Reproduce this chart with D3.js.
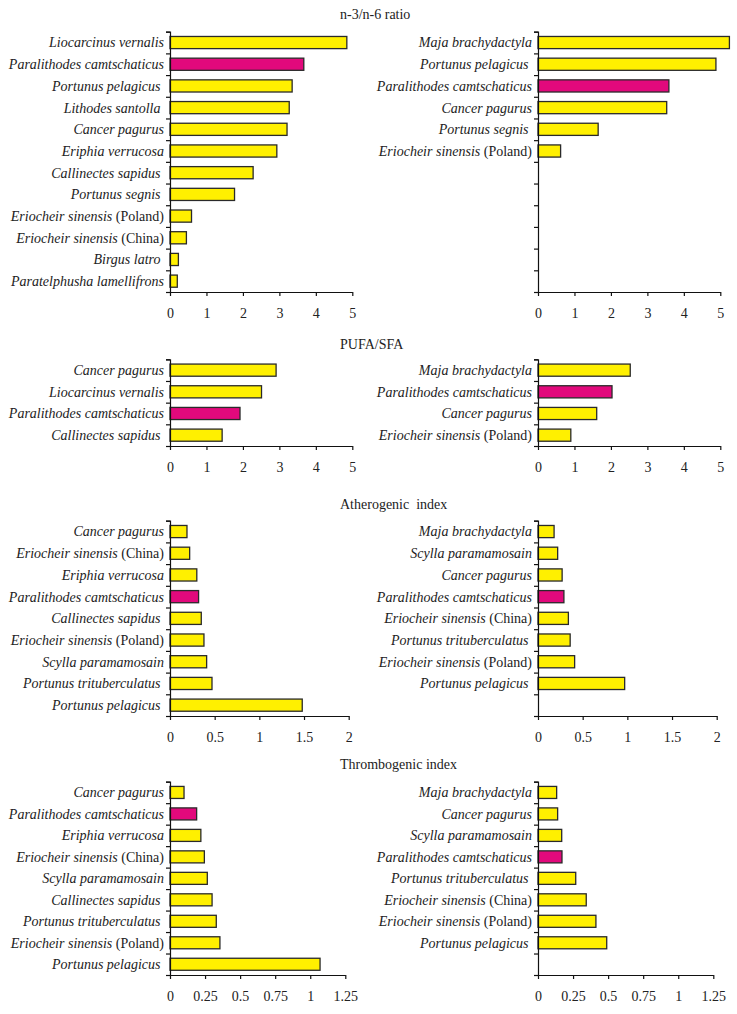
<!DOCTYPE html>
<html><head><meta charset="utf-8">
<script src="https://cdn.jsdelivr.net/npm/d3@7"></script>
<style>
body{margin:0;background:#fff;}
svg text{font-family:"Liberation Serif","Times New Roman",serif;white-space:pre;}
</style></head>
<body><svg id="c" width="737" height="1014"></svg>
<script>
const highlightSpecies = "Paralithodes camtschaticus";
const spacedLabels = ["Portunus pelagicus","Portunus segnis","Callinectes sapidus","Portunus trituberculatus","Lithodes santolla","Birgus latro"];

const n3n6LeftSpecies = ["Liocarcinus vernalis","Paralithodes camtschaticus","Portunus pelagicus","Lithodes santolla","Cancer pagurus","Eriphia verrucosa","Callinectes sapidus","Portunus segnis","Eriocheir sinensis (Poland)","Eriocheir sinensis (China)","Birgus latro","Paratelphusha lamellifrons"];
const n3n6LeftValues = [4.85,3.67,3.35,3.27,3.21,2.93,2.28,1.77,0.59,0.45,0.23,0.20];
const n3n6RightSpecies = ["Maja brachydactyla","Portunus pelagicus","Paralithodes camtschaticus","Cancer pagurus","Portunus segnis","Eriocheir sinensis (Poland)"];
const n3n6RightValues = [5.25,4.88,3.59,3.53,1.65,0.62];

const pufaLeftSpecies = ["Cancer pagurus","Liocarcinus vernalis","Paralithodes camtschaticus","Callinectes sapidus"];
const pufaLeftValues = [2.91,2.51,1.92,1.43];
const pufaRightSpecies = ["Maja brachydactyla","Paralithodes camtschaticus","Cancer pagurus","Eriocheir sinensis (Poland)"];
const pufaRightValues = [2.53,2.03,1.61,0.90];

const athLeftSpecies = ["Cancer pagurus","Eriocheir sinensis (China)","Eriphia verrucosa","Paralithodes camtschaticus","Callinectes sapidus","Eriocheir sinensis (Poland)","Scylla paramamosain","Portunus trituberculatus","Portunus pelagicus"];
const athLeftValues = [0.19,0.22,0.30,0.32,0.35,0.38,0.41,0.47,1.48];
const athRightSpecies = ["Maja brachydactyla","Scylla paramamosain","Cancer pagurus","Paralithodes camtschaticus","Eriocheir sinensis (China)","Portunus trituberculatus","Eriocheir sinensis (Poland)","Portunus pelagicus"];
const athRightValues = [0.18,0.22,0.27,0.29,0.34,0.36,0.41,0.97];

const thrLeftSpecies = ["Cancer pagurus","Paralithodes camtschaticus","Eriphia verrucosa","Eriocheir sinensis (China)","Scylla paramamosain","Callinectes sapidus","Portunus trituberculatus","Eriocheir sinensis (Poland)","Portunus pelagicus"];
const thrLeftValues = [0.10,0.19,0.22,0.245,0.266,0.30,0.33,0.356,1.07];
const thrRightSpecies = ["Maja brachydactyla","Cancer pagurus","Scylla paramamosain","Paralithodes camtschaticus","Portunus trituberculatus","Eriocheir sinensis (China)","Eriocheir sinensis (Poland)","Portunus pelagicus"];
const thrRightValues = [0.133,0.14,0.169,0.171,0.269,0.344,0.413,0.49];

const titles = ["n-3/n-6 ratio","PUFA/SFA","Atherogenic  index","Thrombogenic index"];
const n3n6Ticks = [0,1,2,3,4,5];
const pufaTicks = [0,1,2,3,4,5];
const athTicks = [0,0.5,1,1.5,2];
const thrTicks = [0,0.25,0.5,0.75,1,1.25];

const svg = d3.select("#c");
const YELLOW = "#fff000", MAGENTA = "#e2097c", STROKE = "#2a2a2a";

const sections = [
  {title:titles[0], titleY:19, top:31.7, bottom:292, width:182.3, ticks:n3n6Ticks, max:5,
   left:{sp:n3n6LeftSpecies, v:n3n6LeftValues, slots:12}, right:{sp:n3n6RightSpecies, v:n3n6RightValues, slots:12}},
  {title:titles[1], titleY:349, top:359.3, bottom:446, width:182.3, ticks:pufaTicks, max:5,
   left:{sp:pufaLeftSpecies, v:pufaLeftValues, slots:4}, right:{sp:pufaRightSpecies, v:pufaRightValues, slots:4}},
  {title:titles[2], titleY:509, top:520.7, bottom:716, width:178.7, ticks:athTicks, max:2,
   left:{sp:athLeftSpecies, v:athLeftValues, slots:9}, right:{sp:athRightSpecies, v:athRightValues, slots:9}},
  {title:titles[3], titleY:769, top:781.7, bottom:975, width:175.3, ticks:thrTicks, max:1.25,
   left:{sp:thrLeftSpecies, v:thrLeftValues, slots:9}, right:{sp:thrRightSpecies, v:thrRightValues, slots:9}}
];

const fmt = d => String(d);

function panel(sec, p, x0){
  const g = svg.append("g");
  const x = d3.scaleLinear().domain([0, sec.max]).range([x0, x0 + sec.width]);
  const slotIdx = d3.range(p.slots);
  const y = d3.scaleBand().domain(slotIdx).range([sec.top, sec.bottom]).paddingInner(0.44).paddingOuter(0.22);
  const yb = d3.scaleLinear().domain([0, p.slots]).range([sec.top, sec.bottom]);

  g.selectAll("rect.bar").data(p.v).join("rect")
    .attr("x", x(0)).attr("y", (d,i)=>y(i))
    .attr("width", d => x(d)-x(0)).attr("height", y.bandwidth())
    .attr("fill", (d,i)=> p.sp[i]===highlightSpecies ? MAGENTA : YELLOW)
    .attr("stroke", STROKE).attr("stroke-width", 1.3);

  const ya = g.append("g").attr("transform", `translate(${x(0)},0)`)
    .call(d3.axisLeft(yb).tickValues(d3.range(p.slots+1)).tickSize(4).tickFormat(""));
  ya.select(".domain").attr("stroke","#111").attr("stroke-width",1.2);
  ya.selectAll(".tick line").attr("stroke","#111").attr("stroke-width",1.2);

  const xa = g.append("g").attr("transform", `translate(0,${sec.bottom})`)
    .call(d3.axisBottom(x).tickValues(sec.ticks).tickSize(4).tickFormat(fmt).tickSizeOuter(0));
  xa.select(".domain").attr("stroke","#111").attr("stroke-width",1.2);
  xa.selectAll(".tick line").attr("stroke","#111").attr("stroke-width",1.2);
  xa.selectAll(".tick text").attr("font-family","Liberation Serif").attr("font-size",14)
    .attr("fill","#222").attr("dy","1.35em");

  const lab = g.selectAll("text.cat").data(p.sp).join("text")
    .attr("class","cat")
    .attr("x", x(0)-6).attr("y", (d,i)=> y(i)+y.bandwidth()/2)
    .attr("dy","0.35em").attr("text-anchor","end")
    .attr("font-size",14).attr("fill","#222");
  lab.each(function(d){
    const t = d3.select(this);
    const k = d.indexOf(" (");
    if(k>=0){
      t.append("tspan").attr("font-style","italic").text(d.slice(0,k));
      t.append("tspan").text(d.slice(k));
    } else {
      t.append("tspan").attr("font-style","italic").text(spacedLabels.includes(d) ? d + " " : d);
    }
  });
}

sections.forEach(sec=>{
  svg.append("text").attr("x",340).attr("y",sec.titleY).attr("font-size",14).attr("fill","#222").text(sec.title);
  panel(sec, sec.left, 170);
  panel(sec, sec.right, 538);
});
</script></body></html>
